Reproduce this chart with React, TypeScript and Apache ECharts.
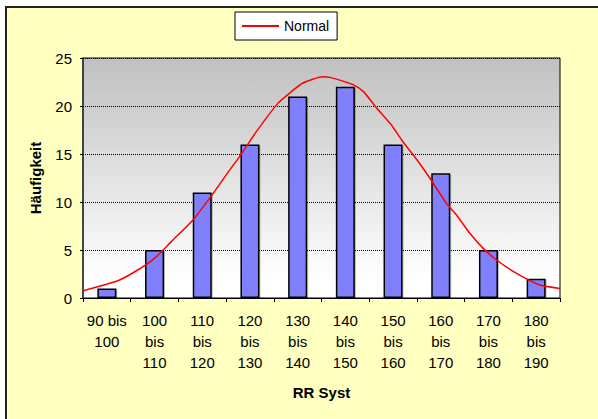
import React, { useEffect, useRef } from "react";
import * as echarts from "echarts";

const categories = [
  "90 bis 100",
  "100 bis 110",
  "110 bis 120",
  "120 bis 130",
  "130 bis 140",
  "140 bis 150",
  "150 bis 160",
  "160 bis 170",
  "170 bis 180",
  "180 bis 190",
];
const frequencies = [1, 5, 11, 16, 21, 22, 16, 13, 5, 2];

// Normal curve (x in mmHg, y in frequency)
const normalX = [90, 97.3, 101.2, 105, 108.5, 113, 117.3, 120.7, 122.8, 126.3, 130.9, 133.7, 136.1, 140.3, 141.8, 146.7, 148.8, 151.6, 154.7, 156.8, 160, 162.7, 166.2, 168.3, 171.1, 173.9, 176.7, 180.9, 185.8, 190];
const normalY = [0.76, 1.8, 2.84, 4.13, 5.87, 8.1, 10.9, 13.3, 14.7, 17.3, 20.3, 21.5, 22.4, 23.05, 22.98, 22.2, 21.5, 19.76, 18.0, 16.46, 14.4, 12.5, 9.86, 8.65, 6.74, 5.17, 3.96, 2.57, 1.35, 1.0];

const yTicks = { min: 0, max: 25, interval: 5 };
const xRange = { min: 90, max: 190 };

const FONT = "'Liberation Sans', Arial, sans-serif";

export default function App() {
  const ref = useRef<HTMLDivElement>(null);
  useEffect(() => {
    if (!ref.current) return;
    const chart = echarts.init(ref.current, null, { renderer: "svg" });
    chart.setOption({
      animation: false,
      backgroundColor: "#ffffff",
      textStyle: { fontFamily: FONT },
      graphic: [
        {
          type: "rect",
          z: -10,
          silent: true,
          shape: { x: 6, y: 7, width: 620, height: 440 },
          style: { fill: "#FFFFC0", stroke: "#222222", lineWidth: 2 },
        },
      ],
      legend: {
        data: ["Normal"],
        left: 235,
        top: 12,
        padding: [7, 8, 7, 6],
        itemWidth: 37,
        itemHeight: 14,
        backgroundColor: "#ffffff",
        borderColor: "#000000",
        borderWidth: 1,
        itemStyle: { opacity: 0 },
        textStyle: { fontSize: 14, color: "#000", fontFamily: FONT },
      },
      grid: {
        left: 83,
        top: 58,
        right: 38,
        bottom: 121,
        show: true,
        borderColor: "#000000",
        borderWidth: 1,
        backgroundColor: new echarts.graphic.LinearGradient(0, 0, 0, 1, [
          { offset: 0, color: "#C0C0C0" },
          { offset: 0.92, color: "#FFFFFF" },
          { offset: 1, color: "#FFFFFF" },
        ]),
      },
      xAxis: [
        {
          type: "category",
          data: categories,
          boundaryGap: true,
          name: "RR Syst",
          nameLocation: "middle",
          nameGap: 87,
          nameTextStyle: { fontSize: 15, fontWeight: "bold", color: "#000", fontFamily: FONT },
          axisLine: { lineStyle: { color: "#000", width: 1 } },
          axisTick: { show: true, length: 4, lineStyle: { color: "#000" } },
          axisLabel: {
            color: "#000",
            fontSize: 15,
            lineHeight: 21,
            margin: 12,
            interval: 0,
            fontFamily: FONT,
            formatter: (v: string) => {
              const [a, b, c] = v.split(" ");
              return a.length < 3 ? `${a} ${b}\n${c}` : `${a}\n${b}\n${c}`;
            },
          },
          splitLine: { show: false },
        },
        {
          type: "value",
          min: xRange.min,
          max: xRange.max,
          show: false,
        },
      ],
      yAxis: {
        type: "value",
        min: yTicks.min,
        max: yTicks.max,
        interval: yTicks.interval,
        name: "Häufigkeit",
        nameLocation: "middle",
        nameGap: 40,
        nameRotate: 90,
        nameTextStyle: { fontSize: 15, fontWeight: "bold", color: "#000", fontFamily: FONT },
        axisLine: { show: true, lineStyle: { color: "#333", width: 1.5 } },
        axisTick: { show: true, length: 3, lineStyle: { color: "#000" } },
        axisLabel: { color: "#000", fontSize: 15, margin: 11, fontFamily: FONT },
        splitLine: { show: true, lineStyle: { color: "#000", type: "dotted", width: 1 } },
      },
      series: [
        {
          name: "Häufigkeit",
          type: "bar",
          data: frequencies,
          barWidth: 19,
          itemStyle: {
            color: "#8080FF",
            borderColor: "#000000",
            borderWidth: 1.5,
            shadowColor: "rgba(0,0,0,0.25)",
            shadowOffsetX: 1,
            shadowOffsetY: 1,
            shadowBlur: 1,
          },
        },
        {
          name: "Normal",
          type: "line",
          xAxisIndex: 1,
          data: normalX.map((x, i) => [x, normalY[i]]),
          symbol: "none",
          smooth: 0.2,
          lineStyle: { color: "#FF0000", width: 1.5 },
          itemStyle: { color: "#FF0000" },
          z: 5,
        },
      ],
    });
    return () => chart.dispose();
  }, []);
  return (
    <div
      ref={ref}
      style={{ position: "absolute", left: 0, top: 0, width: 598, height: 419 }}
    />
  );
}
